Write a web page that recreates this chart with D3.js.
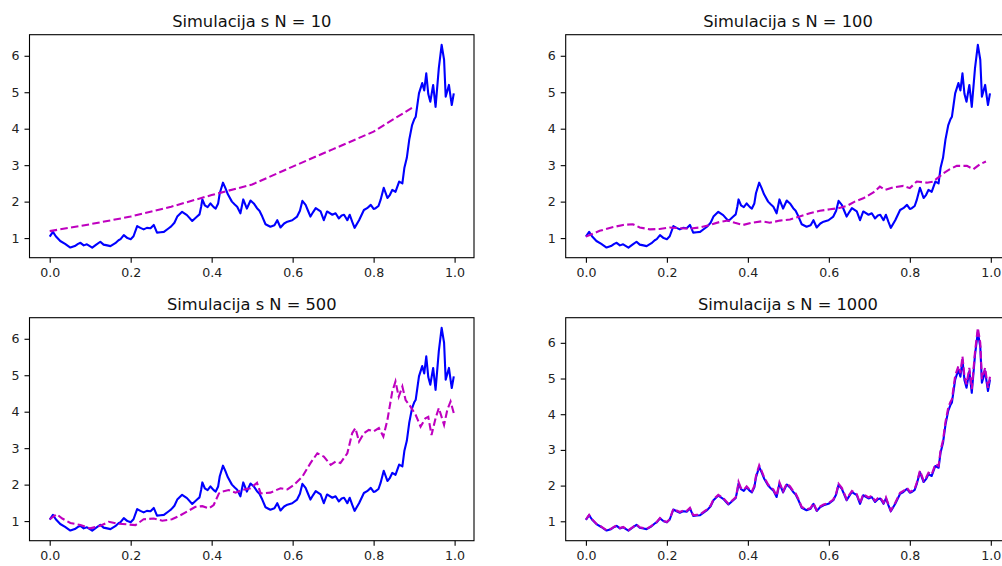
<!DOCTYPE html>
<html>
<head>
<meta charset="utf-8">
<script src="https://cdn.jsdelivr.net/npm/d3@7"></script>
<style>
  body { margin: 0; background: #fff; }
  svg { display: block; font-family: "DejaVu Sans", sans-serif; }
</style>
</head>
<body>
<div id="grafico"></div>
<script>
// Podaci ocitani sa slike
const panelN = [10, 100, 500, 1000];
const tickX = [0.0, 0.2, 0.4, 0.6, 0.8, 1.0];
const tickY = [1, 2, 3, 4, 5, 6];

// egzaktno rjesenje (plava)
const exactT = [0.000, 0.008, 0.015, 0.026, 0.038, 0.051, 0.062, 0.070, 0.076, 0.084,
  0.092, 0.105, 0.115, 0.125, 0.133, 0.142, 0.150, 0.162, 0.170, 0.175,
  0.183, 0.192, 0.200, 0.207, 0.216, 0.224, 0.232, 0.240, 0.249, 0.257,
  0.265, 0.274, 0.282, 0.294, 0.300, 0.308, 0.315, 0.327, 0.339, 0.352,
  0.364, 0.370, 0.374, 0.377, 0.383, 0.390, 0.397, 0.405, 0.410, 0.416,
  0.420, 0.428, 0.434, 0.440, 0.450, 0.457, 0.463, 0.471, 0.478, 0.487,
  0.496, 0.504, 0.512, 0.518, 0.525, 0.533, 0.545, 0.555, 0.562, 0.570,
  0.579, 0.587, 0.599, 0.611, 0.618, 0.624, 0.632, 0.638, 0.644, 0.651,
  0.657, 0.669, 0.677, 0.685, 0.698, 0.706, 0.714, 0.721, 0.727, 0.735,
  0.741, 0.747, 0.753, 0.764, 0.776, 0.784, 0.793, 0.800, 0.805, 0.812,
  0.817, 0.825, 0.834, 0.840, 0.846, 0.854, 0.863, 0.871, 0.876, 0.882,
  0.888, 0.895, 0.900, 0.904, 0.908, 0.912, 0.920, 0.925, 0.930, 0.935,
  0.940, 0.947, 0.953, 0.961, 0.968, 0.974, 0.978, 0.986, 0.990, 0.993, 0.998];
const exactX = [1.04, 1.17, 1.05, 0.92, 0.84, 0.74, 0.78, 0.84, 0.87, 0.80,
  0.83, 0.74, 0.82, 0.90, 0.82, 0.80, 0.78, 0.86, 0.94, 0.97,
  1.08, 1.00, 0.97, 1.05, 1.33, 1.28, 1.24, 1.28, 1.27, 1.36,
  1.15, 1.16, 1.17, 1.27, 1.32, 1.42, 1.59, 1.72, 1.63, 1.47,
  1.59, 1.65, 1.86, 2.06, 1.90, 1.85, 1.95, 1.85, 1.81, 1.95,
  2.23, 2.52, 2.37, 2.20, 2.00, 1.92, 1.86, 1.68, 2.06, 1.81,
  2.03, 1.95, 1.82, 1.75, 1.59, 1.38, 1.31, 1.35, 1.49, 1.29,
  1.40, 1.45, 1.49, 1.59, 1.75, 2.02, 1.91, 1.75, 1.59, 1.72,
  1.82, 1.73, 1.49, 1.73, 1.64, 1.68, 1.54, 1.62, 1.64, 1.49,
  1.64, 1.45, 1.28, 1.49, 1.77, 1.82, 1.91, 1.80, 1.82, 1.88,
  2.04, 2.38, 2.10, 2.18, 2.32, 2.27, 2.55, 2.50, 2.93, 3.20,
  3.70, 4.10, 4.25, 4.33, 4.65, 4.97, 5.25, 5.05, 5.52, 4.95,
  4.74, 5.20, 4.60, 5.66, 6.30, 5.89, 4.88, 5.20, 4.88, 4.65, 4.97];

// Euler, N = 10
const euler10T = [0.0, 0.1, 0.2, 0.3, 0.4, 0.5, 0.6, 0.7, 0.8, 0.9];
const euler10X = [1.19, 1.38, 1.59, 1.86, 2.18, 2.47, 2.96, 3.44, 3.92, 4.61];

// Euler, N = 100
const euler100T = [0.000, 0.034, 0.063, 0.092, 0.116, 0.133, 0.158, 0.182, 0.207, 0.232,
  0.256, 0.281, 0.306, 0.330, 0.351, 0.368, 0.388, 0.409, 0.434, 0.454,
  0.479, 0.504, 0.528, 0.553, 0.578, 0.603, 0.623, 0.644, 0.664, 0.685,
  0.710, 0.726, 0.739, 0.759, 0.784, 0.800, 0.817, 0.842, 0.858, 0.883,
  0.899, 0.916, 0.941, 0.957, 0.974, 0.988];
const euler100X = [1.04, 1.20, 1.29, 1.36, 1.38, 1.29, 1.24, 1.25, 1.29, 1.27,
  1.26, 1.29, 1.36, 1.44, 1.48, 1.42, 1.36, 1.42, 1.46, 1.42,
  1.48, 1.51, 1.59, 1.68, 1.75, 1.79, 1.82, 1.88, 2.00, 2.09,
  2.25, 2.41, 2.32, 2.39, 2.43, 2.37, 2.55, 2.52, 2.55, 2.78,
  2.89, 2.98, 2.98, 2.89, 3.03, 3.10];

// Euler, N = 500
const euler500T = [0.000, 0.017, 0.031, 0.051, 0.076, 0.100, 0.125, 0.146, 0.167, 0.191,
  0.212, 0.232, 0.257, 0.278, 0.302, 0.323, 0.339, 0.360, 0.377, 0.393,
  0.405, 0.418, 0.426, 0.442, 0.459, 0.475, 0.496, 0.512, 0.521, 0.545,
  0.570, 0.587, 0.603, 0.624, 0.644, 0.661, 0.677, 0.694, 0.706, 0.718,
  0.735, 0.747, 0.755, 0.764, 0.776, 0.788, 0.800, 0.813, 0.824, 0.834,
  0.846, 0.854, 0.862, 0.871, 0.879, 0.891, 0.904, 0.916, 0.928, 0.935,
  0.943, 0.953, 0.961, 0.974, 0.982, 0.990, 0.998];
const euler500X = [1.05, 1.19, 1.07, 0.95, 0.89, 0.80, 0.87, 0.98, 0.93, 0.91,
  0.89, 1.05, 1.07, 1.01, 1.05, 1.16, 1.26, 1.39, 1.41, 1.35,
  1.44, 1.76, 1.81, 1.85, 1.78, 1.85, 1.90, 2.05, 1.76, 1.78,
  1.90, 1.87, 1.99, 2.22, 2.59, 2.86, 2.77, 2.54, 2.63, 2.59,
  2.86, 3.41, 3.55, 3.18, 3.41, 3.50, 3.46, 3.55, 3.32, 3.77,
  4.55, 4.83, 4.41, 4.69, 4.32, 4.14, 3.91, 3.59, 3.82, 3.86,
  3.36, 3.82, 4.10, 3.64, 4.05, 4.28, 3.96];

// Euler, N = 1000 (ista vremenska mreza kao egzaktno rjesenje)
const euler1000X = [1.05, 1.18, 1.06, 0.93, 0.85, 0.75, 0.79, 0.85, 0.88, 0.81,
  0.84, 0.75, 0.83, 0.91, 0.83, 0.81, 0.79, 0.87, 0.95, 0.98,
  1.09, 1.01, 0.98, 1.06, 1.35, 1.30, 1.26, 1.30, 1.29, 1.38,
  1.17, 1.18, 1.19, 1.29, 1.34, 1.44, 1.61, 1.74, 1.65, 1.49,
  1.61, 1.67, 1.89, 2.10, 1.93, 1.88, 1.98, 1.88, 1.84, 1.99,
  2.27, 2.57, 2.41, 2.24, 2.03, 1.95, 1.89, 1.71, 2.09, 1.84,
  2.06, 1.98, 1.85, 1.78, 1.62, 1.40, 1.33, 1.37, 1.51, 1.31,
  1.42, 1.47, 1.51, 1.61, 1.78, 2.05, 1.94, 1.78, 1.62, 1.75,
  1.85, 1.76, 1.51, 1.76, 1.67, 1.71, 1.57, 1.65, 1.67, 1.52,
  1.67, 1.48, 1.30, 1.52, 1.80, 1.85, 1.94, 1.83, 1.85, 1.91,
  2.08, 2.42, 2.14, 2.22, 2.36, 2.31, 2.60, 2.55, 2.99, 3.27,
  3.78, 4.19, 4.34, 4.42, 4.75, 5.08, 5.35, 5.15, 5.62, 5.05,
  4.84, 5.30, 4.70, 5.75, 6.42, 6.00, 4.98, 5.30, 4.97, 4.74, 5.05];

const eulerT = [euler10T, euler100T, euler500T, exactT];
const eulerX = [euler10X, euler100X, euler500X, euler1000X];

// Raspored
const width = 1002, height = 566;
const boxW = 444.5, boxH = 223;
const boxes = [
  {left: 29.5, top: 34.7}, {left: 565.7, top: 34.7},
  {left: 29.5, top: 317.7}, {left: 565.7, top: 317.7}
];

const svg = d3.select("#grafico")
  .append("svg")
  .attr("width", width)
  .attr("height", height);

panelN.forEach((n, i) => {
  const b = boxes[i];
  const g = svg.append("g").attr("transform", `translate(${b.left},${b.top})`);

  const exact = exactT.map((t, k) => [t, exactX[k]]);
  const approx = eulerT[i].map((t, k) => [t, eulerX[i][k]]);
  const all = exact.concat(approx);

  // matplotlib margine od 5%
  const [x0, x1] = d3.extent(all, d => d[0]);
  const [y0, y1] = d3.extent(all, d => d[1]);
  const mx = (x1 - x0) * 0.05, my = (y1 - y0) * 0.05;

  const x = d3.scaleLinear().domain([x0 - mx, x1 + mx]).range([0, boxW]);
  const y = d3.scaleLinear().domain([y0 - my, y1 + my]).range([boxH, 0]);

  const line = d3.line().x(d => x(d[0])).y(d => y(d[1]));

  const clipId = "clip" + i;
  g.append("clipPath").attr("id", clipId)
    .append("rect").attr("width", boxW).attr("height", boxH);

  const plot = g.append("g").attr("clip-path", `url(#${clipId})`);

  plot.append("path")
    .datum(exact)
    .attr("d", line)
    .attr("fill", "none")
    .attr("stroke", "#0000ff")
    .attr("stroke-width", 2.1)
    .attr("stroke-linejoin", "round");

  plot.append("path")
    .datum(approx)
    .attr("d", line)
    .attr("fill", "none")
    .attr("stroke", "#bf00bf")
    .attr("stroke-width", 2.1)
    .attr("stroke-dasharray", "7.5,3.3");

  // Osi
  const ax = g.append("g")
    .attr("transform", `translate(0,${boxH})`)
    .call(d3.axisBottom(x).tickValues(tickX).tickFormat(d3.format(".1f"))
      .tickSize(5).tickPadding(5));
  const ay = g.append("g")
    .call(d3.axisLeft(y).tickValues(tickY).tickFormat(d3.format("d"))
      .tickSize(5).tickPadding(5));

  [ax, ay].forEach(a => {
    a.select(".domain").remove();
    a.selectAll("line").attr("stroke", "#000").attr("stroke-width", 1.1);
    a.selectAll("text").attr("fill", "#222").style("font-size", "12.6px")
      .style("font-family", "'DejaVu Sans', sans-serif");
  });

  g.append("rect")
    .attr("width", boxW).attr("height", boxH)
    .attr("fill", "none").attr("stroke", "#000").attr("stroke-width", 1.1);

  g.append("text")
    .attr("x", boxW / 2).attr("y", -7.5)
    .attr("text-anchor", "middle")
    .style("font-size", "16.3px")
    .attr("fill", "#111")
    .text(`Simulacija s N = ${n}`);
});
</script>
</body>
</html>
